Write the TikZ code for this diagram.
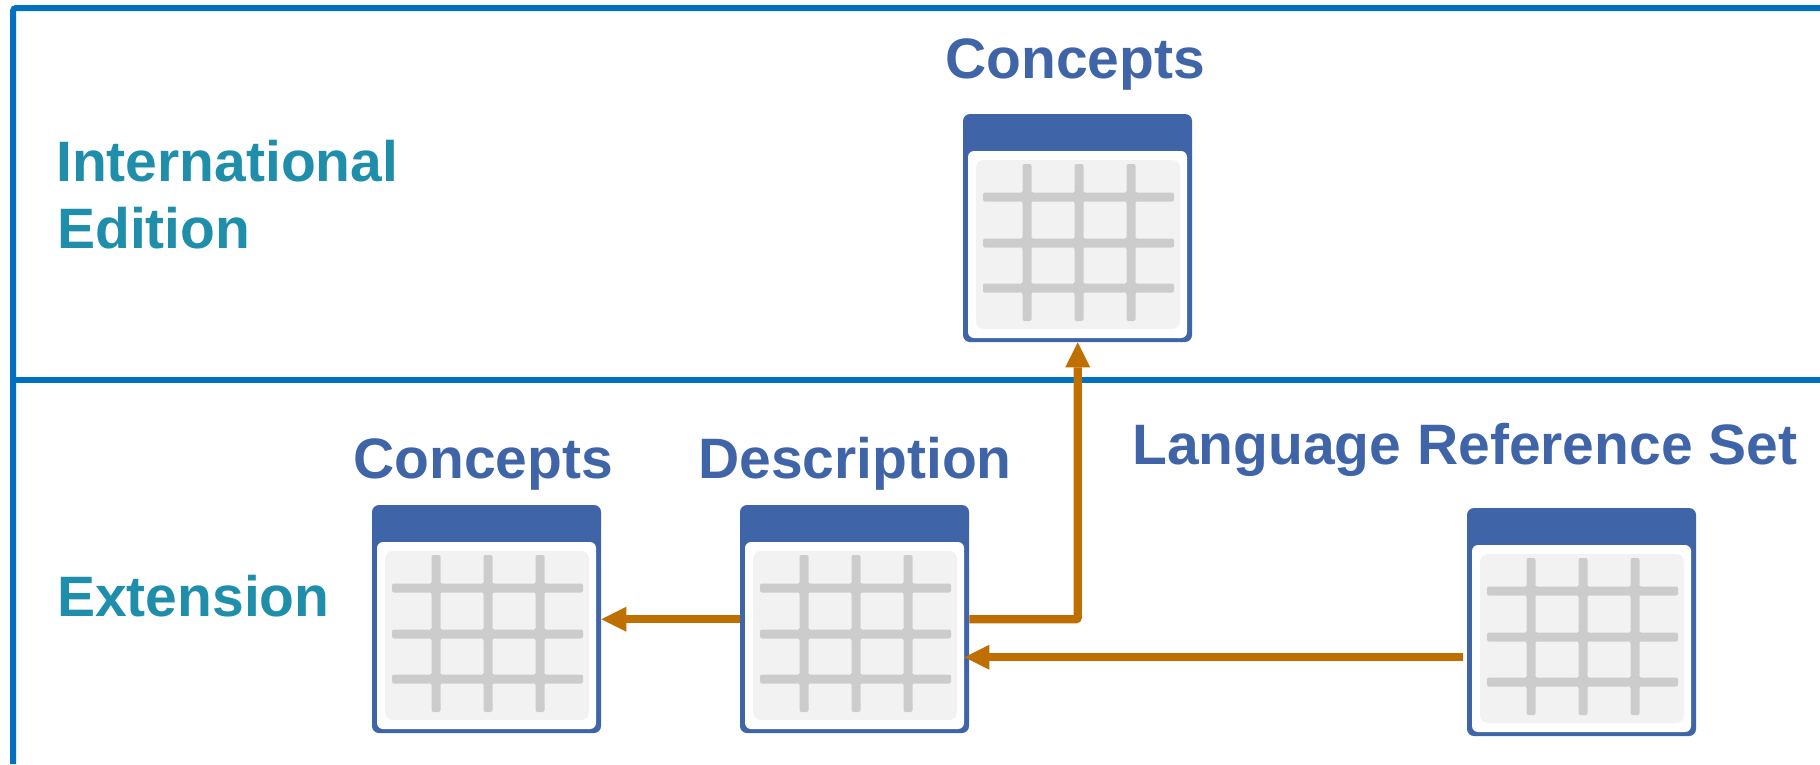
\documentclass[tikz,border=0pt]{standalone}
\usepackage{fontspec}
\setmainfont{Liberation Sans}
\usetikzlibrary{arrows.meta}
\definecolor{frameblue}{HTML}{0070C0}
\definecolor{tealtext}{HTML}{1F8EAB}
\definecolor{tableblue}{HTML}{4064A8}
\definecolor{arrowbrown}{HTML}{BF6E00}
\definecolor{gridgrey}{HTML}{CCCCCC}
\definecolor{cellgrey}{HTML}{F2F2F2}
\tikzset{
  x=1pt,y=-1pt,
  frameline/.style={draw=frameblue,line width=6pt},
  sidelabel/.style={anchor=base west,inner sep=0pt,text=tealtext,font=\fontsize{57}{66}\selectfont\bfseries},
  tablelabel/.style={anchor=base west,inner sep=0pt,text=tableblue,font=\fontsize{57}{66}\selectfont\bfseries},
  tablebox/.style={anchor=north west,inner sep=0pt,minimum width=229pt,minimum height=228pt,shape=rectangle},
  gridbar/.style={fill=gridgrey,rounded corners=2pt},
  flow/.style={draw=arrowbrown,line width=8.4pt,rounded corners=2pt,-{Triangle[length=25pt,width=25pt,fill=arrowbrown,line width=0pt]}},
}
\newcommand{\dbtable}[3]{%
  \node[tablebox] (#1) at (#2,#3) {};
  \begin{scope}[shift={(#2,#3)}]
    \fill[tableblue,rounded corners=7pt] (0,0) rectangle (229,228);
    \fill[white,rounded corners=6pt] (5,37) rectangle (224,224);
    \fill[cellgrey,rounded corners=8pt] (13,46) rectangle (217,215);
    \foreach \gy in {83,129,174} \fill[gridbar] (20,\gy-4.5) rectangle (211,\gy+4.5);
    \foreach \gx in {64,116,168} \fill[gridbar] (\gx-4.5,50) rectangle (\gx+4.5,207);
    \foreach \gy in {83,129,174} \foreach \gx in {64,116,168} {
      \fill[gridgrey] (\gx-6.5,\gy-6.5) rectangle (\gx+6.5,\gy+6.5);
      \fill[cellgrey] (\gx-6.5,\gy-6.5) circle[radius=2pt] (\gx+6.5,\gy-6.5) circle[radius=2pt]
                      (\gx-6.5,\gy+6.5) circle[radius=2pt] (\gx+6.5,\gy+6.5) circle[radius=2pt];
    }
  \end{scope}}
\begin{document}
\begin{tikzpicture}
\useasboundingbox (0,0) rectangle (1820,764);
\fill[white] (0,0) rectangle (1820,764);
\coordinate (frameTR) at (1820,8);
\coordinate (frameBL) at (13,764);
\coordinate (midL) at (13,380);
\coordinate (midR) at (1820,380);
\draw[frameline,rounded corners=3pt] (frameTR) -- (13,8) -- (frameBL);
\draw[frameline] (midL) -- (midR);
\node[sidelabel] (intl) at (56,181) {International};
\node[sidelabel] (edition) at (57,248) {Edition};
\node[sidelabel] (ext) at (57,616) {Extension};
\node[tablelabel] (lblA) at (945,78) {Concepts};
\node[tablelabel] (lblB) at (353,478) {Concepts};
\node[tablelabel] (lblC) at (698,478) {Description};
\node[tablelabel] (lblD) at (1132,464) {Language Reference Set};
\dbtable{intlConcepts}{963}{114}
\dbtable{extConcepts}{372}{505}
\dbtable{extDescription}{740}{505}
\dbtable{extLangRef}{1467}{508}
\coordinate (langStart) at ([xshift=-4pt,yshift=-35pt]extLangRef.west);
\coordinate (langEnd) at ([xshift=-5pt]extDescription.east |- langStart);
\draw[flow] (extDescription.west) -- (extConcepts.east);
\draw[flow] (extDescription.east) -- (extDescription.east -| intlConcepts.south) -- (intlConcepts.south);
\draw[flow] (langStart) -- (langEnd);
\end{tikzpicture}
\end{document}
